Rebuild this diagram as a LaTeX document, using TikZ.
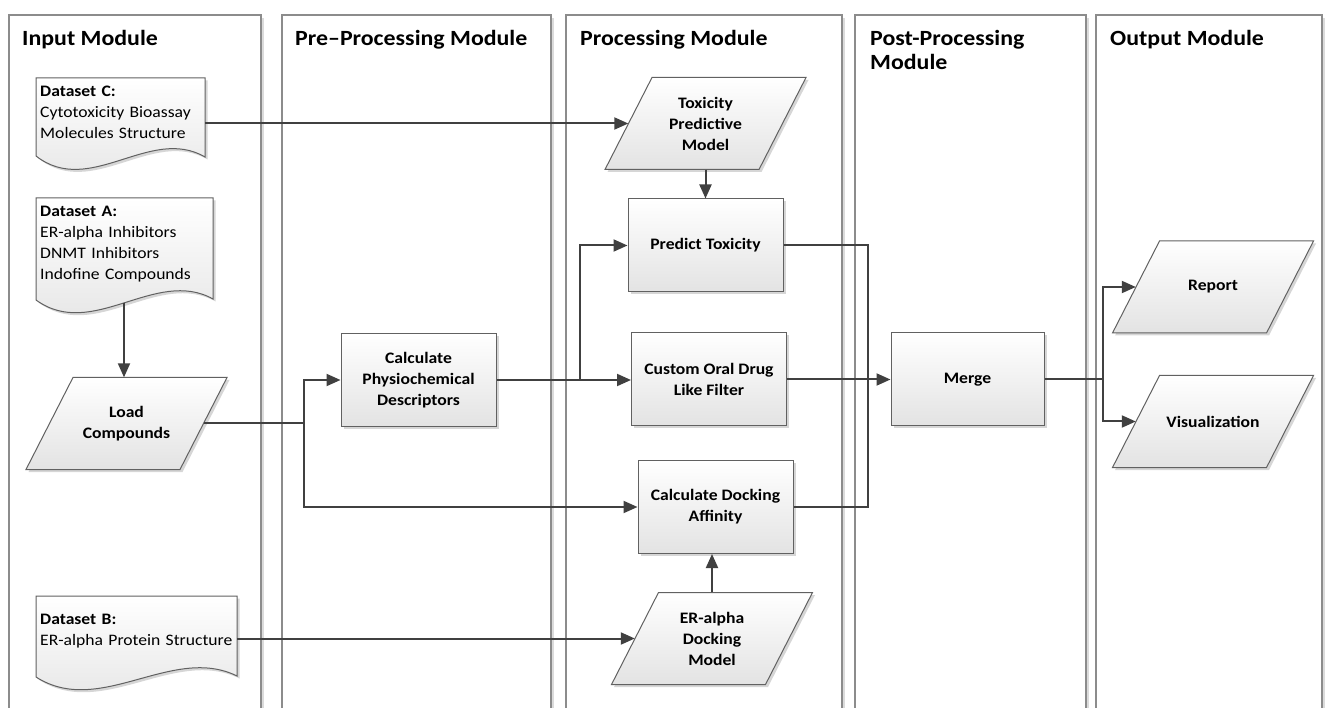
\documentclass[tikz,border=0pt]{standalone}
\usepackage{fontspec}
\setmainfont{Carlito}[FakeStretch=1.1]
\usetikzlibrary{arrows.meta,shadows,calc}
\newcommand\ioshape[4]{%
  \path[shade] (#2-100.5,#3+46) -- (#2+53.5,#3+46) -- (#2+100.5,#3-46) -- (#2-53.5,#3-46) -- cycle;
  \node[iotext] (#1) at (#2,#3) {#4};
}
\begin{document}
\begin{tikzpicture}[x=1pt,y=-1pt,
  lane/.style={draw=black!45, line width=1.1pt, fill=white},
  laneshadow/.style={fill=black!14},
  title/.style={font=\fontsize{21.7}{24}\selectfont\bfseries, anchor=north west, align=left, inner sep=0pt},
  shade/.style={top color=white, bottom color=black!11, draw=black!62, line width=1pt,
    drop shadow={shadow xshift=2.5pt, shadow yshift=-2.5pt, opacity=0.35, fill=black!45}},
  procbox/.style={shade, rectangle, minimum width=155pt, minimum height=93pt, align=center,
    font=\fontsize{16}{21}\selectfont\bfseries, inner sep=2pt},
  iotext/.style={rectangle, minimum width=154pt, minimum height=92pt, align=center,
    font=\fontsize{16}{21}\selectfont\bfseries, inner sep=2pt},
  doctext/.style={anchor=north west, inner xsep=4pt, inner ysep=8pt, align=left,
    font=\fontsize{16}{21}\selectfont},
  conn/.style={draw=black!75, line width=2pt},
  arr/.style={conn, -{Triangle[length=14pt,width=12pt]}},
]
\useasboundingbox (0,0) rectangle (1331,708);
\clip (0,0) rectangle (1331,708);

% swimlanes
\foreach \a/\b in {9/261, 282/551, 566/842, 855/1086, 1096/1322} {
  \fill[laneshadow] (\a+3,18) rectangle (\b+3,720);
  \draw[lane] (\a,15) rectangle (\b,720);
}
\node[title] (tin) at (22,30) {Input Module};
\node[title] (tpre) at (295,30) {Pre–Processing Module};
\node[title] (tproc) at (580,30) {Processing Module};
\node[title] (tpost) at (870,30) {Post-Processing\\Module};
\node[title] (tout) at (1110,30) {Output Module};

% documents
\path[shade] (36,78) -- (205,78) -- (205,157) .. controls (150,125) and (90,198) .. (36,156) -- cycle;
\node[doctext, text width=161pt] (dsC) at (36,78) {\textbf{Dataset C:}\\Cytotoxicity Bioassay\\Molecules Structure};

\path[shade] (36,198) -- (213,198) -- (213,299) .. controls (155.5,267) and (92.6,341) .. (36,300) -- cycle;
\node[doctext, text width=169pt] (dsA) at (36,198) {\textbf{Dataset A:}\\ER-alpha Inhibitors\\DNMT Inhibitors\\Indofine Compounds};

\path[shade] (36,596) -- (237,596) -- (237,676) .. controls (172,644) and (100,718) .. (36,677) -- cycle;
\node[doctext, text width=193pt, inner ysep=18pt] (dsB) at (36,596) {\textbf{Dataset B:}\\ER-alpha Protein Structure};

% nodes
\ioshape{load}{126.5}{423.5}{Load\\Compounds}
\node[procbox] (cpd) at (418.5,380) {Calculate\\Physiochemical\\Descriptors};
\ioshape{tpm}{705.5}{123.5}{Toxicity\\Predictive\\Model}
\node[procbox] (pt) at (705.5,245.5) {Predict Toxicity};
\node[procbox] (cod) at (709,379.5) {Custom Oral Drug\\Like Filter};
\node[procbox] (cda) at (715.5,507) {Calculate Docking\\Affinity};
\ioshape{erm}{712}{638.5}{ER-alpha\\Docking\\Model}
\node[procbox, minimum width=153pt] (mrg) at (967.5,379.5) {Merge};
\ioshape{rep}{1213}{287}{Report}
\ioshape{vis}{1213}{421.5}{Visualization}

% connectors
\coordinate (dsAb) at (124,303);
\coordinate (j1) at (304,423.5);
\coordinate (j2) at (580,380);
\coordinate (j3) at (868,507);
\coordinate (j4) at (1103,379.5);

\draw[arr] (dsC.east |- tpm.west) -- (tpm.west);
\draw[arr] (dsAb) -- (dsAb |- load.north);
\draw[conn] (load.east) -- (j1);
\draw[arr] (j1) |- (cpd.west);
\draw[arr] (j1) |- (cda.west);
\draw[conn] (cpd.east) -- (j2);
\draw[arr] (j2) -- (j2 -| cod.west);
\draw[arr] (j2) |- (pt.west);
\draw[arr] (tpm.south) -- (tpm.south |- pt.north);
\draw[arr] (erm.north) -- (erm.north |- cda.south);
\draw[conn] (pt.east) -| (j3) -- (cda.east);
\draw[arr] (cod.east) -- (mrg.west);
\draw[conn] (mrg.east) -- (j4);
\draw[arr] (j4) |- (rep.west);
\draw[arr] (j4) |- (vis.west);
\draw[arr] (dsB.east |- erm.west) -- (erm.west);
\end{tikzpicture}
\end{document}
